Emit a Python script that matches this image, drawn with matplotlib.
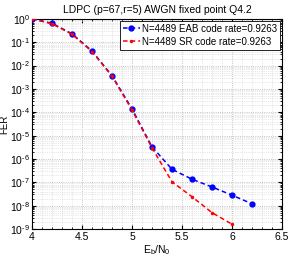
import matplotlib
matplotlib.use("Agg")
import matplotlib.pyplot as plt
import numpy as np
from matplotlib.ticker import MultipleLocator, LogLocator, NullFormatter, FuncFormatter

ebn0 = [4.0, 4.2, 4.4, 4.6, 4.8, 5.0, 5.2, 5.4, 5.6, 5.8, 6.0, 6.2]
fer_eab = [1.0, 0.65, 0.23, 0.042, 0.0037, 1.4e-4, 3.3e-6, 3.6e-7, 1.35e-7, 6.3e-8, 2.8e-8, 1.2e-8]
ebn0_sr = [4.0, 4.2, 4.4, 4.6, 4.8, 5.0, 5.2, 5.4, 5.6, 5.8, 6.0]
fer_sr = [1.0, 0.62, 0.22, 0.040, 0.0035, 1.25e-4, 3.0e-6, 1.05e-7, 2.4e-8, 5.0e-9, 1.6e-9]
label_eab = "N=4489 EAB code rate=0.9263"
label_sr = "N=4489 SR code rate=0.9263"
title = "LDPC (p=67,r=5) AWGN fixed point Q4.2"

plt.rcParams['font.family'] = ['Liberation Sans', 'DejaVu Sans']
plt.rcParams['mathtext.fontset'] = 'custom'
plt.rcParams['mathtext.rm'] = 'Liberation Sans'
plt.rcParams['mathtext.it'] = 'Liberation Sans'
fig = plt.figure(figsize=(2.91, 2.59), dpi=100)
ax = fig.add_axes([0.110, 0.116, 0.859, 0.811])

ax.semilogy(ebn0, fer_eab, '--', color='#0000ff', marker='o', markersize=3.5,
            markerfacecolor='#0000ff', markeredgecolor='#0000ff', linewidth=1.1,
            dashes=(3, 2), label=label_eab, zorder=3)
ax.semilogy(ebn0_sr, fer_sr, '--', color='#ff0000', marker='.', markersize=3,
            linewidth=1.1, dashes=(3, 2), label=label_sr, zorder=4)

ax.set_xlim(4, 6.5)
ax.set_ylim(1e-9, 1)
ax.xaxis.set_major_locator(MultipleLocator(0.5))
ax.xaxis.set_minor_locator(MultipleLocator(0.1))
ax.xaxis.set_major_formatter(FuncFormatter(lambda v, p: f"{v:g}"))
ax.yaxis.set_major_locator(LogLocator(base=10, numticks=20))
ax.yaxis.set_minor_locator(LogLocator(base=10, subs=range(2, 10), numticks=20))
ax.yaxis.set_minor_formatter(NullFormatter())
ax.yaxis.set_major_formatter(FuncFormatter(
    lambda v, p: r'$10^{\mathrm{%s}}$' % (str(int(round(np.log10(v)))).replace('-', '\u2010'))))
ax.grid(True, which='major', linestyle=':', color='#b0b0b0', linewidth=0.6)
ax.grid(True, which='minor', linestyle=':', color='#d0d0d0', linewidth=0.5)
ax.tick_params(which='both', direction='in', top=True, right=True, labelsize=7.5, pad=2)
ax.tick_params(axis='y', labelsize=7.5, pad=1.5)
ax.tick_params(which='major', length=3)
ax.tick_params(which='minor', length=1.5)
for s in ax.spines.values():
    s.set_linewidth(0.8)

ax.set_title(title, fontsize=7.5, pad=4)
ax.set_xlabel(r'E$_\mathrm{b}$/N$_\mathrm{0}$', fontsize=7.5, labelpad=1)
ax.set_ylabel('FER', fontsize=7)
ax.yaxis.set_label_coords(-0.092, 0.5)
leg = ax.legend(loc='upper right', fontsize=7, handlelength=1.8, handletextpad=0.2,
                borderpad=0.3, labelspacing=0.3, fancybox=False, framealpha=1,
                edgecolor='black', borderaxespad=0.2)
leg.get_frame().set_linewidth(0.6)

fig.savefig('out.png', dpi=100)
